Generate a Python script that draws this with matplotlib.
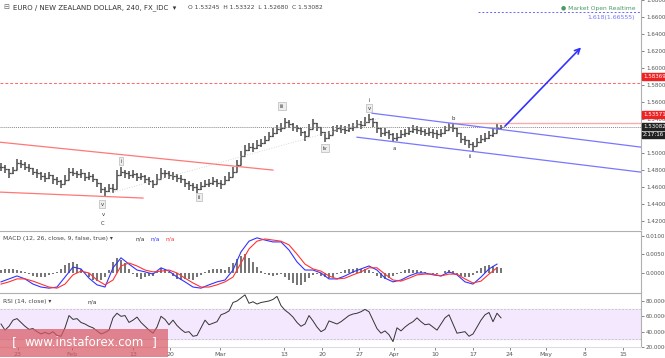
import numpy as np
import matplotlib
matplotlib.use('Agg')
import matplotlib.pyplot as plt
from matplotlib.patches import Rectangle
from matplotlib.transforms import blended_transform_factory

# ---------------- data (one entry per drawn bar, 4h bars grouped) ----------------
closes = [1.484, 1.481, 1.476, 1.480, 1.488, 1.487, 1.484, 1.482, 1.478, 1.476,
          1.473, 1.471, 1.474, 1.469, 1.467, 1.464, 1.468, 1.478, 1.477, 1.475,
          1.476, 1.472, 1.473, 1.470, 1.465, 1.458, 1.455, 1.459, 1.458, 1.474,
          1.478, 1.476, 1.474, 1.475, 1.472, 1.473, 1.470, 1.467, 1.464, 1.470,
          1.477, 1.476, 1.474, 1.473, 1.471, 1.469, 1.465, 1.462, 1.460, 1.458,
          1.461, 1.464, 1.465, 1.467, 1.465, 1.463, 1.468, 1.472, 1.478, 1.486,
          1.497, 1.504, 1.507, 1.506, 1.510, 1.512, 1.515, 1.520, 1.524, 1.528,
          1.530, 1.536, 1.534, 1.531, 1.529, 1.525, 1.520, 1.528, 1.535, 1.531,
          1.525, 1.518, 1.521, 1.527, 1.529, 1.528, 1.527, 1.529, 1.531, 1.534,
          1.533, 1.537, 1.540, 1.536, 1.529, 1.524, 1.525, 1.522, 1.518, 1.519,
          1.522, 1.524, 1.526, 1.528, 1.527, 1.526, 1.524, 1.525, 1.523, 1.522,
          1.524, 1.527, 1.531, 1.530, 1.524, 1.517, 1.515, 1.511, 1.508, 1.513,
          1.516, 1.518, 1.521, 1.524, 1.530, 1.531]
# pips above / below the close
ups = [45, 50, 55, 40, 48, 42, 50, 45, 38, 50, 45, 55, 40, 48, 50, 42, 60, 45, 50, 40,
       46, 50, 42, 48, 45, 55, 50, 48, 60, 55, 50, 42, 48, 45, 50, 40, 46, 50, 42, 55,
       48, 45, 50, 42, 46, 50, 45, 48, 42, 50, 46, 48, 45, 50, 42, 48, 50, 55, 60, 58,
       55, 50, 48, 52, 50, 46, 48, 50, 52, 50, 48, 55, 50, 48, 45, 50, 55, 58, 52, 48,
       50, 55, 48, 50, 45, 48, 50, 46, 48, 50, 52, 55, 60, 50, 48, 52, 45, 48, 50, 46,
       48, 45, 50, 48, 45, 50, 48, 46, 50, 48, 45, 50, 45, 48, 50, 52, 48, 45, 50, 52,
       48, 50, 46, 50, 55, 25]
dns = [48, 45, 50, 42, 46, 50, 45, 48, 42, 50, 46, 48, 45, 50, 42, 48, 45, 50, 46, 48,
       50, 45, 48, 46, 50, 55, 60, 50, 52, 55, 48, 50, 45, 48, 50, 46, 48, 50, 52, 45,
       48, 50, 46, 48, 50, 45, 48, 50, 52, 55, 48, 45, 50, 46, 48, 50, 45, 48, 50, 55,
       58, 50, 48, 52, 50, 48, 45, 50, 48, 52, 50, 48, 50, 52, 48, 50, 55, 50, 48, 52,
       50, 55, 48, 50, 45, 48, 50, 46, 48, 50, 45, 48, 50, 55, 58, 50, 48, 52, 50, 48,
       45, 50, 48, 46, 50, 48, 45, 50, 48, 52, 50, 48, 45, 50, 55, 58, 52, 50, 55, 50,
       48, 50, 46, 48, 50, 40]

# MACD / signal, every 2nd bar, in 1e-4
macd_line = [-24, -16, -8, -16, -30, -38, -41, -38, -11, 16, 11, -14, -32, -38, 14, 41,
             24, 8, 3, -3, 14, 5, -11, -24, -38, -41, -32, -24, -19, 8, 57, 86, 95, 89,
             84, 84, 62, 30, 8, 8, 0, -16, -16, -8, 3, 11, 19, 8, -14, -24, -19, -8, 0,
             0, -5, -8, 3, -5, -24, -30, -11, 11, 24]
signal_line = [-30, -24, -16, -16, -22, -30, -38, -41, -30, -5, 5, 0, -19, -32, -19, 19,
               27, 19, 8, 3, 5, 8, 0, -14, -27, -38, -38, -32, -24, -11, 27, 65, 86, 92,
               89, 86, 76, 51, 24, 11, 5, -8, -16, -14, -5, 3, 14, 14, -3, -19, -22, -14,
               -5, -3, -3, -8, -3, -3, -16, -27, -22, -3, 14]
macd_hist = [8, 10, 12, 10, 9, 5, 2, -3, -8, -11, -12, -10, -6, -3, 2, 12, 22, 27, 30, 24,
             12, 2, -12, -20, -22, -18, -10, 8, 30, 40, 36, 26, 10, -2, -12, -16, -10, -8,
             -9, 4, 14, 12, 2, -8, -16, -18, -16, -17, -18, -12, -5, 3, 8, 10, 12, 10, 8,
             16, 28, 38, 46, 50, 40, 30, 16, 6, -2, -6, -8, -6, -4, -10, -20, -28, -33,
             -32, -25, -14, -6, -4, -8, -10, -13, -10, -3, 4, 9, 11, 12, 13, 12, 10, 8, 2,
             -8, -14, -17, -14, -8, -2, 4, 8, 10, 9, 8, 6, 4, 1, -2, -3, 0, 5, 9, 6, -2,
             -8, -12, -10, -6, 6, 14, 19, 22, 20, 16, 14]

rsi = [50, 42, 47, 55, 57, 52, 47, 43, 44, 40, 37, 39, 37, 40, 35, 34, 45, 61, 56, 57,
       52, 50, 47, 45, 41, 37, 39, 42, 58, 64, 60, 61, 52, 55, 59, 52, 47, 42, 38, 46,
       60, 56, 49, 55, 48, 43, 39, 40, 34, 35, 45, 55, 49, 51, 53, 62, 64, 67, 78, 80,
       84, 88, 77, 79, 76, 78, 79, 80, 82, 86, 74, 68, 64, 59, 52, 47, 50, 61, 54, 46,
       40, 43, 54, 52, 50, 53, 57, 61, 63, 64, 66, 69, 66, 55, 44, 38, 41, 36, 27, 45,
       41, 46, 50, 53, 58, 53, 49, 50, 46, 42, 50, 58, 62, 50, 38, 39, 40, 34, 37, 46,
       55, 62, 65, 53, 64, 58]

tick_labels = ['23', 'Feb', '13', '20', 'Mar', '13', '20', '27', 'Apr', '10', '17',
               '24', 'May', '8', '15']
tick_px = [18, 72, 133, 170, 220, 284, 322, 359, 394, 435, 473, 510, 546, 585, 623]

# ---------------- figure ----------------
W, H = 665, 358
fig = plt.figure(figsize=(W / 100, H / 100), dpi=100)
fig.patch.set_facecolor('white')
plt.rcParams['font.family'] = 'DejaVu Sans'

pw = 641 / W
ax = fig.add_axes([0, 1 - 229 / H, pw, 229 / H])
axm = fig.add_axes([0, 1 - 292 / H, pw, 61 / H], sharex=ax)
axr = fig.add_axes([0, 1 - 347 / H, pw, 54 / H], sharex=ax)

n = len(closes)
x = np.arange(n)
c = np.array(closes)
o = np.concatenate([[c[0]], c[:-1]])
hi = np.maximum(c + np.array(ups) / 1e4, np.maximum(o, c))
lo = np.minimum(c - np.array(dns) / 1e4, np.minimum(o, c))

def px2x(p):
    return (p - 1) / 4.0

grey = '#4a4a4a'
lab_col = '#555555'
sep = '#b0b0b0'

for a in (ax, axm, axr):
    a.set_xlim(-0.25, 160)
    for s in ('top', 'left', 'bottom'):
        a.spines[s].set_visible(False)
    a.spines['right'].set_color(sep)
    a.spines['right'].set_linewidth(0.8)
    a.yaxis.tick_right()
    a.tick_params(axis='y', labelsize=4.1, colors=lab_col, length=2, width=0.5, pad=1.5)
    a.tick_params(axis='x', length=0, labelbottom=False)

axm.spines['top'].set_visible(True)
axm.spines['top'].set_color(sep)
axr.spines['top'].set_visible(True)
axr.spines['top'].set_color(sep)
axr.spines['bottom'].set_visible(True)
axr.spines['bottom'].set_color('#dddddd')

# ---------------- main price panel ----------------
ax.set_ylim(1.4106, 1.6794)
ax.vlines(x, lo, hi, color=grey, linewidth=1.1)
ax.hlines(o, x - 0.5, x, color=grey, linewidth=0.9)
ax.hlines(c, x, x + 0.5, color=grey, linewidth=0.9)

yt = [1.42, 1.44, 1.46, 1.48, 1.50, 1.54, 1.56, 1.58, 1.60, 1.62, 1.64, 1.66, 1.68]
ax.set_yticks(yt)
ax.set_yticklabels(['%.5f' % v for v in yt])

# horizontal levels
ax.axhline(1.5825, color='#ff6666', linestyle=(0, (3, 2)), linewidth=0.7)
ax.axhline(1.53082, color='#888888', linestyle=(0, (1, 1)), linewidth=0.7)
ax.plot([112, 160], [1.53571, 1.53571], color='#ffaaaa', linewidth=1.0)
ax.plot([px2x(478), 160], [1.66555, 1.66555], color='#6666ff', linestyle=(0, (2, 2)), linewidth=0.7)

# trend lines
ax.plot([-0.25, 68], [1.5127, 1.4799], color='#ff7777', linewidth=0.9)
ax.plot([-0.25, 35.5], [1.4540, 1.4470], color='#ff7777', linewidth=0.9)
ax.plot([92.75, 160], [1.5468, 1.5069], color='#7777ff', linewidth=0.9)
ax.plot([89, 160], [1.5186, 1.4775], color='#7777ff', linewidth=0.9)
ax.plot([27.25, 94.75], [1.4529, 1.5409], color='#cccccc', linestyle=(0, (1, 2)), linewidth=0.6)

# projection arrow
ax.annotate('', xy=(145.5, 1.6266), xytext=(125.5, 1.5292),
            arrowprops=dict(arrowstyle='->', color='#3333ff', lw=1.2, mutation_scale=9))

# wave labels
boxed = [('v', 25.25, 1.4400), ('i', 30, 1.4904), ('ii', 49.5, 1.4482),
         ('iii', 70.25, 1.5550), ('iv', 81, 1.5057), ('v', 92, 1.5526)]
for t, xx, yy in boxed:
    ax.text(xx, yy, t, fontsize=3.8, ha='center', va='center', color='#333333',
            bbox=dict(boxstyle='square,pad=0.25', facecolor='#eeeeee', edgecolor='#aaaaaa', linewidth=0.4))
plain = [('v', 25.5, 1.4282), ('C', 25.5, 1.4165), ('i', 92, 1.5620),
         ('a', 98.25, 1.5057), ('b', 113, 1.5410), ('ii', 117.25, 1.4963)]
for t, xx, yy in plain:
    ax.text(xx, yy, t, fontsize=3.8, ha='center', va='center', color='#333333')

# titles / legends
tr = blended_transform_factory(ax.transAxes, ax.transData)
ax.text(0.006, 0.968, '\u229f', transform=ax.transAxes, fontsize=5, color='#666666', va='center')
ax.text(0.021, 0.968, 'EURO / NEW ZEALAND DOLLAR, 240, FX_IDC  \u25be', transform=ax.transAxes,
        fontsize=5, color='#333333', va='center')
ax.text(0.293, 0.968, 'O 1.53245  H 1.53322  L 1.52680  C 1.53082', transform=ax.transAxes,
        fontsize=4.3, color='#444444', va='center')
ax.text(0.992, 0.962, '\u25cf Market Open Realtime', transform=ax.transAxes,
        fontsize=4.3, color='#4a9a62', va='center', ha='right')
ax.text(0.99, 1.6625, '1.618(1.66555)', transform=tr, fontsize=4.5, color='#7777ff',
        va='top', ha='right')

# right-side price tags
tags = [(1.5902, '1.58369', '#ee2222'), (1.5456, '1.53571', '#ee2222'),
        (1.53082, '1.53082', '#222222'), (1.5212, '2:17:16', '#222222')]
for yy, t, col in tags:
    ax.text(1.003, yy, t, transform=tr, fontsize=4.0, color='white', va='center', ha='left',
            clip_on=False, bbox=dict(boxstyle='square,pad=0.15', facecolor=col, edgecolor=col))

# ---------------- MACD ----------------
axm.set_ylim(-0.00514, 0.01135)
xm = x[::2]
axm.bar(x, np.array(macd_hist) / 1e4, width=0.55, color='#777777')
axm.plot(xm, np.array(macd_line) / 1e4, color='#3333ff', linewidth=0.8)
axm.plot(xm, np.array(signal_line) / 1e4, color='#ff3333', linewidth=0.8)
axm.set_yticks([0, 0.005, 0.01])
axm.set_yticklabels(['0.0000', '0.0050', '0.0100'])
axm.text(0.005, 0.87, 'MACD (12, 26, close, 9, false, true) \u25be', transform=axm.transAxes,
         fontsize=4.3, color='#444444', va='center')
axm.text(0.212, 0.87, 'n/a', transform=axm.transAxes, fontsize=4.3, color='#333333', va='center')
axm.text(0.235, 0.87, 'n/a', transform=axm.transAxes, fontsize=4.3, color='#3333ff', va='center')
axm.text(0.258, 0.87, 'n/a', transform=axm.transAxes, fontsize=4.3, color='#ff3333', va='center')

# ---------------- RSI ----------------
axr.set_ylim(20, 90.4)
axr.axhspan(30, 70, color='#f3e8fd', zorder=0)
axr.axhline(70, color='#bbbbbb', linestyle=(0, (3, 2)), linewidth=0.5)
axr.axhline(30, color='#bbbbbb', linestyle=(0, (3, 2)), linewidth=0.5)
axr.plot(x, rsi, color='#333333', linewidth=0.7)
axr.set_yticks([20, 40, 60, 80])
axr.set_yticklabels(['20.0000', '40.0000', '60.0000', '80.0000'])
axr.text(0.005, 0.84, 'RSI (14, close) \u25be', transform=axr.transAxes,
         fontsize=4.3, color='#444444', va='center')
axr.text(0.137, 0.84, 'n/a', transform=axr.transAxes, fontsize=4.3, color='#333333', va='center')

axr.set_xticks([px2x(p) for p in tick_px])
axr.set_xticklabels(tick_labels)
axr.tick_params(axis='x', labelbottom=True, labelsize=4.5, colors=lab_col, length=2, width=0.5, pad=1.5)

# watermark
fig.patches.append(Rectangle((0, 1 / H), 168 / W, 28 / H, transform=fig.transFigure,
                             facecolor=(0.85, 0.35, 0.40), alpha=0.72, edgecolor='none', zorder=5))
fig.text(12 / W, 1 - 343 / H, '[', fontsize=9, color='white', va='center', zorder=6)
fig.text(84 / W, 1 - 343 / H, 'www.instaforex.com', fontsize=8.5, color='white',
         va='center', ha='center', zorder=6)
fig.text(152 / W, 1 - 343 / H, ']', fontsize=9, color='white', va='center', zorder=6)

fig.savefig('out.png', dpi=100, facecolor='white')
